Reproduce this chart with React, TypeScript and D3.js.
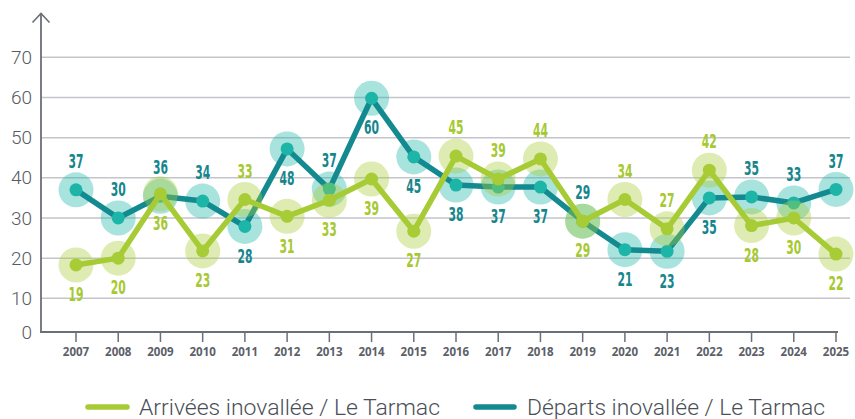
import React from "react";
import * as d3 from "d3";

const years = ["2007","2008","2009","2010","2011","2012","2013","2014","2015","2016","2017","2018","2019","2020","2021","2022","2023","2024","2025"];
// plotted positions
const arrivals = [18.3, 20, 36, 21.8, 34.6, 30.4, 34.4, 39.7, 26.7, 45.4, 39.7, 44.7, 29.2, 34.6, 27.3, 41.9, 28.1, 30, 21];
const departures = [37, 30, 35.4, 34.2, 27.9, 47.2, 37.2, 59.8, 45.2, 38.2, 37.7, 37.7, 29.2, 22.1, 21.7, 35, 35.25, 33.75, 37.1];
// printed data labels
const arrivalsLabels = [19, 20, 36, 23, 33, 31, 33, 39, 27, 45, 39, 44, 29, 34, 27, 42, 28, 30, 22];
const departuresLabels = [37, 30, 36, 34, 28, 48, 37, 60, 45, 38, 37, 37, 29, 21, 23, 35, 35, 33, 37];
// label side: 1 = above, -1 = below
const arrivalsSide = [-1, -1, -1, -1, 1, -1, -1, -1, -1, 1, 1, 1, -1, 1, 1, 1, -1, -1, -1];
const departuresSide = [1, 1, 1, 1, -1, -1, 1, -1, -1, -1, -1, -1, 1, -1, -1, -1, 1, 1, 1];
const yTicks = [0, 10, 20, 30, 40, 50, 60, 70];
const seriesNames = ["Arrivées inovallée / Le Tarmac", "Départs inovallée / Le Tarmac"];

const GREEN_LINE = "#a6cb34";
const GREEN_PT = "#a8cc36";
const TEAL_LINE = "#138a8f";
const TEAL_PT = "#1db5a8";
const TEAL_TXT = "#16868d";
const GREEN_TXT = "#a6c932";

export default function App() {
  const W = 855, H = 419;
  const x = d3.scalePoint<string>().domain(years).range([76, 836]);
  const y = d3.scaleLinear().domain([0, 10, 70]).range([332, 298.3, 57.3]);
  const line = d3.line<number>().x((_, i) => x(years[i]) as number).y((d) => y(d));

  const series = [
    { vals: departures, labels: departuresLabels, side: departuresSide, line: TEAL_LINE, pt: TEAL_PT, txt: TEAL_TXT },
    { vals: arrivals, labels: arrivalsLabels, side: arrivalsSide, line: GREEN_LINE, pt: GREEN_PT, txt: GREEN_TXT },
  ];

  return (
    <svg width={W} height={H} style={{ position: "absolute", left: 0, top: 0 }}>
      <rect width={W} height={H} fill="#fff" />
      {/* gridlines */}
      {yTicks.filter((t) => t > 0).map((t) => (
        <line key={t} x1={41} x2={850} y1={y(t)} y2={y(t)} stroke="#c4c5ca" strokeWidth={1.5} />
      ))}
      {/* y labels */}
      {yTicks.map((t) => (
        <text key={t} x={32} y={y(t)} dy="0.35em" textAnchor="end" fontFamily="Roboto, 'Open Sans', sans-serif" fontWeight={300} fontSize={19} fill="#565b63">{t}</text>
      ))}
      {/* axes */}
      <line x1={41} x2={41} y1={13} y2={y(0)} stroke="#6b6f76" strokeWidth={1.8} />
      <polyline points="32.5,22.5 41,13.5 49.5,22.5" fill="none" stroke="#6b6f76" strokeWidth={1.6} />
      <line x1={40} x2={838} y1={y(0)} y2={y(0)} stroke="#6b6f76" strokeWidth={1.8} />
      {years.map((yr) => (
        <g key={yr}>
          <line x1={x(yr)} x2={x(yr)} y1={y(0)} y2={y(0) + 10} stroke="#6b6f76" strokeWidth={1.5} />
          <text x={x(yr)} y={356} textAnchor="middle" fontFamily="'Open Sans', sans-serif" fontWeight={700} fontSize={11.5} fill="#5c6068">{yr}</text>
        </g>
      ))}
      {/* series */}
      {series.map((s, si) => (
        <g key={si}>
          {s.vals.map((v, i) => (
            <circle key={"h" + i} cx={x(years[i])} cy={y(v)} r={17.5} fill={s.pt} opacity={0.38} />
          ))}
          <path d={line(s.vals) || ""} fill="none" stroke={s.line} strokeWidth={5.5} strokeLinejoin="round" />
          {s.vals.map((v, i) => (
            <circle key={"p" + i} cx={x(years[i])} cy={y(v)} r={6.5} fill={s.pt} />
          ))}
        </g>
      ))}
      {/* labels */}
      {series.map((s, si) => (
        <g key={"l" + si}>
          {s.vals.map((v, i) => (
            <text key={i} x={x(years[i])} y={y(v) - s.side[i] * 29} dy="0.36em" textAnchor="middle"
              fontFamily="'Liberation Sans Narrow', 'DejaVu Sans Condensed', sans-serif" fontWeight={700} fontSize={20}
              textLength={15} lengthAdjust="spacingAndGlyphs" fill={s.txt}>{s.labels[i]}</text>
          ))}
        </g>
      ))}
      {/* legend */}
      <line x1={88} x2={127} y1={407} y2={407} stroke={GREEN_LINE} strokeWidth={5.5} strokeLinecap="round" />
      <text x={139} y={415} fontFamily="Roboto, sans-serif" fontWeight={300} fontSize={22} fill="#4a4f57" textLength={301} lengthAdjust="spacingAndGlyphs">{seriesNames[0]}</text>
      <line x1={476} x2={514} y1={407} y2={407} stroke={TEAL_LINE} strokeWidth={5.5} strokeLinecap="round" />
      <text x={527} y={415} fontFamily="Roboto, sans-serif" fontWeight={300} fontSize={22} fill="#4a4f57" textLength={298} lengthAdjust="spacingAndGlyphs">{seriesNames[1]}</text>
    </svg>
  );
}
